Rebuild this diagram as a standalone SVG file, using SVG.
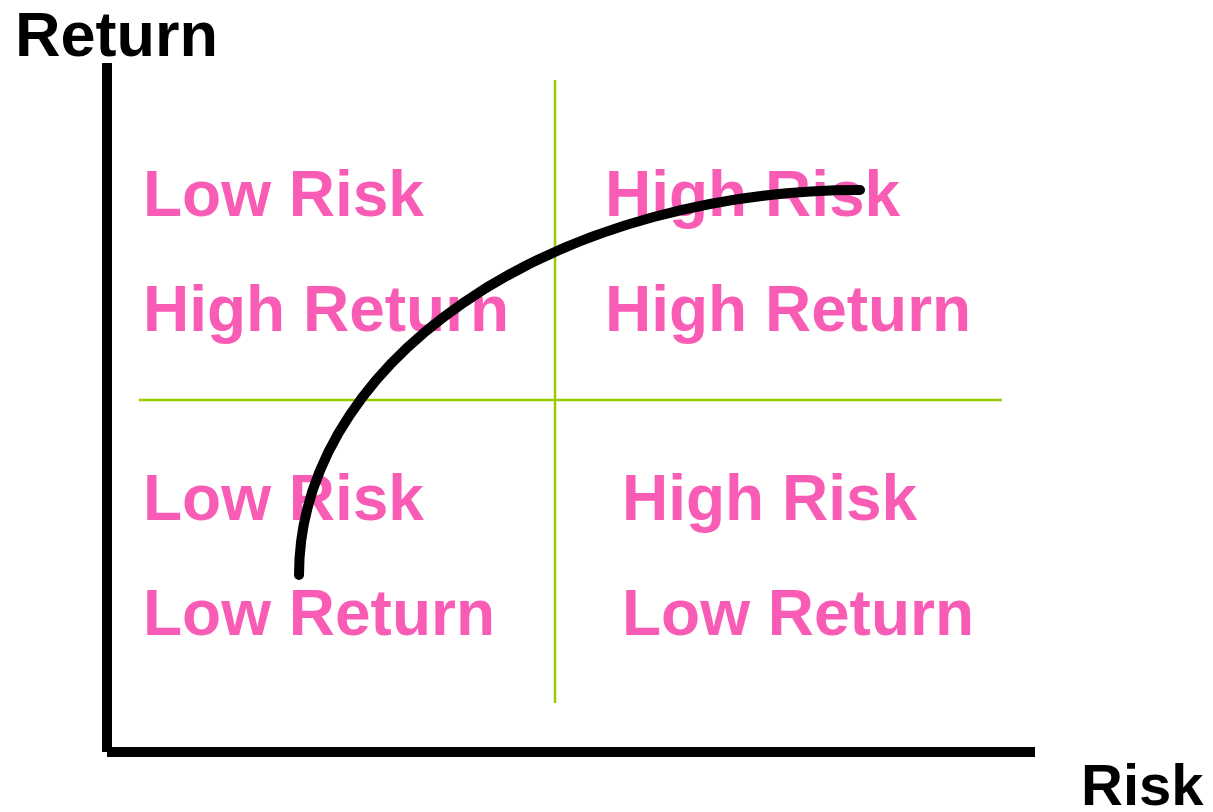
<svg xmlns="http://www.w3.org/2000/svg" width="1213" height="812" viewBox="0 0 1213 812">
<style>
.q{font-family:"Liberation Sans",Arial,sans-serif;font-weight:bold;font-size:64px;fill:#F95CB5}
.ax{font-family:"Liberation Sans",Arial,sans-serif;font-weight:bold;fill:#000}
.g{stroke:#99CC00;stroke-width:2.5;fill:none}
</style>
<rect width="1213" height="812" fill="#fff"/>
<g id="axes">
<line x1="107" y1="63" x2="107" y2="752" stroke="#000" stroke-width="10"/>
<line x1="107" y1="752" x2="1035" y2="752" stroke="#000" stroke-width="10"/>
<text class="ax" x="15" y="56" font-size="63">Return</text>
<text class="ax" x="1081" y="805" font-size="58">Risk</text>
</g>
<g id="grid">
<line class="g" x1="555" y1="80" x2="555" y2="703"/>
<line class="g" x1="139" y1="400" x2="1002" y2="400"/>
</g>
<g id="q1"><text class="q" x="143" y="216">Low Risk</text><text class="q" x="143" y="331">High Return</text></g>
<g id="q2"><text class="q" x="605" y="216">High Risk</text><text class="q" x="605" y="331">High Return</text></g>
<g id="q3"><text class="q" x="143" y="520">Low Risk</text><text class="q" x="143" y="635">Low Return</text></g>
<g id="q4"><text class="q" x="622" y="520">High Risk</text><text class="q" x="622" y="635">Low Return</text></g>
<g id="connectors">
<path d="M299,575 A561,385 0 0 1 860,190" fill="none" stroke="#000" stroke-width="10" stroke-linecap="round"/>
</g>
</svg>
